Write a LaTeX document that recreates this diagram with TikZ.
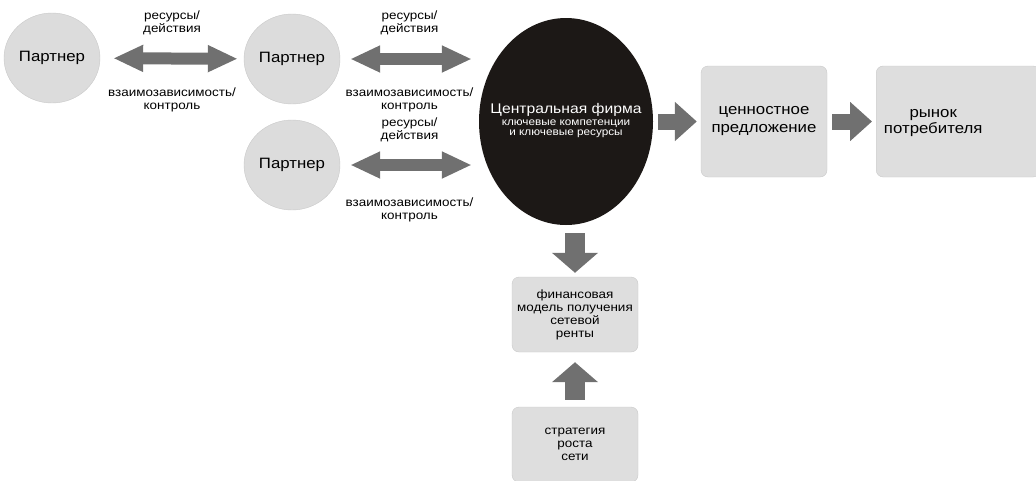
\documentclass[tikz,border=0pt]{standalone}
\usepackage{fontspec}
\setmainfont{Liberation Sans}[FakeStretch=1.12]
\usetikzlibrary{arrows.meta,shapes.geometric}

\definecolor{partnergray}{HTML}{DCDCDC}
\definecolor{rimgray}{HTML}{C9C9C9}
\definecolor{arrowgray}{HTML}{707070}
\definecolor{boxgray}{HTML}{DEDEDE}
\definecolor{firmblack}{HTML}{1C1816}

\tikzset{
  partner/.style={ellipse, minimum width=96pt, minimum height=90pt, inner sep=0pt,
    fill=partnergray, draw=rimgray, font=\fontsize{15}{18}\selectfont},
  valuebox/.style={rectangle, rounded corners=7pt, minimum width=126pt, inner sep=0pt,
    fill=boxgray, draw=rimgray, align=center},
  flowlbl/.style={align=center, inner sep=0pt, text=black, font=\fontsize{12}{13}\selectfont},
  twoway/.style={arrowgray, line width=12pt,
    {Triangle[length=30pt,width=25pt]}-{Triangle[length=30pt,width=25pt]}},
  oneway/.style={arrowgray, line width=16pt, -{Triangle[length=22pt,width=38pt]}},
  downway/.style={arrowgray, line width=20pt, -{Triangle[length=20pt,width=45pt]}}
}

\begin{document}
\begin{tikzpicture}[x=1pt,y=-1pt]
\useasboundingbox (0,0) rectangle (1036,480);

% partners on the left
\node[partner] (p1) at (52,58) {Партнер};
\node[partner] (p2) at (292,59) {Партнер};
\node[partner] (p3) at (292,165) {Партнер};

% central firm (text boxed to zero width so the ellipse keeps its size)
\node[ellipse, fill=firmblack, minimum width=174pt, minimum height=207pt, inner sep=0pt,
  text=white] (firm) at (566,121.5)
  {\makebox[0pt]{\fontsize{10.5}{11}\selectfont\begin{tabular}{@{}c@{}}
   {\fontsize{14}{16}\selectfont Центральная фирма}\\[0.5pt]
   ключевые компетенции\\[-0.5pt]
   и ключевые ресурсы
   \end{tabular}}};

% value chain to the right
\node[valuebox, minimum height=111pt, font=\fontsize{15}{18}\selectfont] (offer) at (764,121.5)
  {ценностное\\предложение};
\node[valuebox, minimum width=164pt, minimum height=111pt, anchor=west,
  font=\fontsize{15}{18}\selectfont] (market) at (876,121.5)
  {\begin{tabular}{@{}c@{}}рынок\\[-2pt]потребителя\end{tabular}\kern50pt};

% rent model below
\node[valuebox, minimum height=75pt, font=\fontsize{12}{13}\selectfont] (rent) at (575,314.5)
  {финансовая\\модель получения\\сетевой\\ренты};
\node[valuebox, minimum height=75pt, font=\fontsize{12}{13}\selectfont] (growth) at (575,444.5)
  {стратегия\\роста\\сети};

% exchange arrows between partners
\draw[twoway, shorten <=13pt, shorten >=6pt] (p1) -- (p2)
  node[midway, above=18pt, flowlbl] {ресурсы/\\действия}
  node[midway, below=23pt, flowlbl] {взаимозависимость/\\контроль};
\draw[twoway, shorten <=10pt, shorten >=7pt] (p2.east) -- (p2.east -| firm.west)
  node[midway, above=18pt, flowlbl] {ресурсы/\\действия}
  node[midway, below=23pt, flowlbl] {взаимозависимость/\\контроль};
\draw[twoway, shorten <=10pt, shorten >=7pt] (p3.east) -- (p3.east -| firm.west)
  node[midway, above=17pt, flowlbl] {ресурсы/\\действия}
  node[midway, below=27pt, flowlbl] {взаимозависимость/\\контроль};

% block arrows
\draw[oneway, shorten <=5pt, shorten >=4pt] (firm.east) -- (offer.west);
\draw[oneway, shorten <=5pt, shorten >=4pt] (offer) -- (market.west);
\draw[downway, shorten <=8pt, shorten >=4pt] (rent.north |- firm.south) -- (rent.north);
\draw[downway, shorten <=7pt, shorten >=10pt] (growth.north) -- (rent.south);
\end{tikzpicture}
\end{document}
